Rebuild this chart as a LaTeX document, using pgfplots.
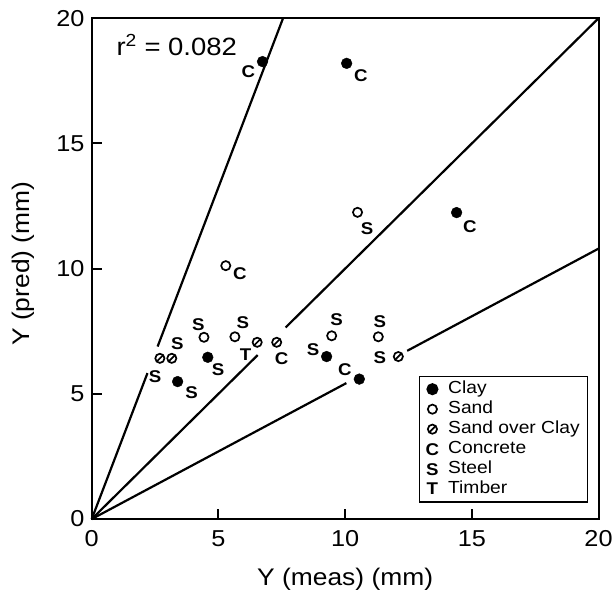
\documentclass[border=0pt]{standalone}
\usepackage{fontspec}
\setmainfont{Liberation Sans}[FakeStretch=1.1]
\usepackage{pgfplots}
\pgfplotsset{compat=1.18}
\pgfdeclareplotmark{slashcirc}{%
  \pgfpathcircle{\pgfpointorigin}{\pgfplotmarksize}%
  \pgfusepathqstroke
  \pgfpathmoveto{\pgfpoint{-0.65\pgfplotmarksize}{-0.65\pgfplotmarksize}}%
  \pgfpathlineto{\pgfpoint{0.65\pgfplotmarksize}{0.65\pgfplotmarksize}}%
  \pgfusepathqstroke
}
\begin{document}
\begin{tikzpicture}
\begin{axis}[
  scale only axis, width=507pt, height=501pt,
  xmin=0, xmax=20, ymin=0, ymax=20,
  xtick={0,5,10,15,20}, ytick={0,5,10,15,20},
  tick align=inside, tick pos=left,
  major tick length=10pt,
  every tick/.style={line width=2pt, black},
  axis line style={line width=2pt},
  /pgf/number format/assume math mode=true,
  tick label style={font=\fontsize{23}{23}\selectfont},
  xticklabel style={anchor=north, inner sep=0pt, yshift=-11pt},
  yticklabel style={anchor=east, inner sep=0pt, xshift=-7pt},
  label style={font=\fontsize{24}{24}\selectfont},
  xlabel={Y (meas) (mm)}, ylabel={Y (pred) (mm)},
  xlabel style={at={(rel axis cs:0.5,-0.098)}, anchor=north, inner sep=0pt},
  ylabel style={at={(rel axis cs:-0.136,0.51)}, anchor=center, inner sep=0pt},
  clip=false,
  legend style={at={(0.98,0.0325)}, anchor=south east, draw=black, line width=1.3pt,
    font=\fontsize{17.5}{17.5}\selectfont, row sep=0pt, inner xsep=6pt, inner ysep=3pt,
    nodes={inner sep=2pt, text height=12.5pt, text depth=3.5pt},
    /tikz/every odd column/.append style={column sep=7pt}},
  legend cell align=left,
]
\coordinate (bbsw) at (rel axis cs:-0.181,-0.1538);
\coordinate (bbne) at (rel axis cs:1.0286,1.0365);
% reference lines
\addplot[black, line width=2.2pt, forget plot] coordinates {(0,0) (2.2,5.83)};
\addplot[black, line width=2.2pt, forget plot] coordinates {(2.6,6.89) (7.55,20)};
\addplot[black, line width=2.2pt, forget plot] coordinates {(0,0) (6.55,6.55)};
\addplot[black, line width=2.2pt, forget plot] coordinates {(7.65,7.65) (20,20)};
\addplot[black, line width=2.2pt, forget plot] coordinates {(0,0) (10.05,5.43)};
\addplot[black, line width=2.2pt, forget plot] coordinates {(12.45,6.72) (20,10.8)};
% Clay
\addplot[only marks, mark=*, mark size=5.4pt, mark options={fill=black, draw=black}] coordinates {
(6.74,18.27) (10.06,18.2) (14.4,12.24) (3.39,5.49) (4.58,6.46) (9.27,6.49) (10.56,5.59)};
\addlegendentry{Clay}
% Sand
\addplot[only marks, mark=o, mark size=4.6pt, mark options={line width=1.7pt, draw=black}] coordinates {
(10.49,12.25) (5.29,10.12) (4.43,7.26) (5.65,7.28) (9.47,7.32) (11.31,7.28)};
\addlegendentry{Sand}
% Sand over Clay
\addplot[only marks, mark=slashcirc, mark size=4.6pt, mark options={line width=1.7pt, draw=black}] coordinates {
(2.69,6.42) (3.16,6.42) (6.53,7.06) (7.3,7.06) (12.1,6.49)};
\addlegendentry{Sand over Clay}
\addlegendimage{only marks, mark=text, text mark={\bfseries\fontsize{17}{17}\selectfont C}}
\addlegendentry{Concrete}
\addlegendimage{only marks, mark=text, text mark={\bfseries\fontsize{17}{17}\selectfont S}}
\addlegendentry{Steel}
\addlegendimage{only marks, mark=text, text mark={\bfseries\fontsize{17}{17}\selectfont T}}
\addlegendentry{Timber}
% point labels
\addplot[only marks, mark=none, forget plot, point meta=explicit symbolic,
  nodes near coords, nodes near coords style={anchor=center, inner sep=0pt, font=\bfseries\fontsize{17}{17}\selectfont}]
  table[meta=lab] {
x y lab
6.18 17.87 C
10.62 17.70 C
10.87 11.61 S
5.85 9.82 C
14.92 11.68 C
2.50 5.69 S
3.38 7.02 S
3.94 5.05 S
4.21 7.78 S
4.99 5.98 S
5.96 7.86 S
6.07 6.55 T
7.49 6.42 C
8.74 6.75 S
9.66 7.95 S
9.99 5.95 C
11.37 7.88 S
11.37 6.46 S
};
\node[anchor=base west, font=\fontsize{25}{25}\selectfont] at (rel axis cs:0.042,0.926) {r\textsuperscript{2} = 0.082};
\end{axis}
\pgfresetboundingbox
\useasboundingbox (bbsw) rectangle (bbne);
\end{tikzpicture}
\end{document}
